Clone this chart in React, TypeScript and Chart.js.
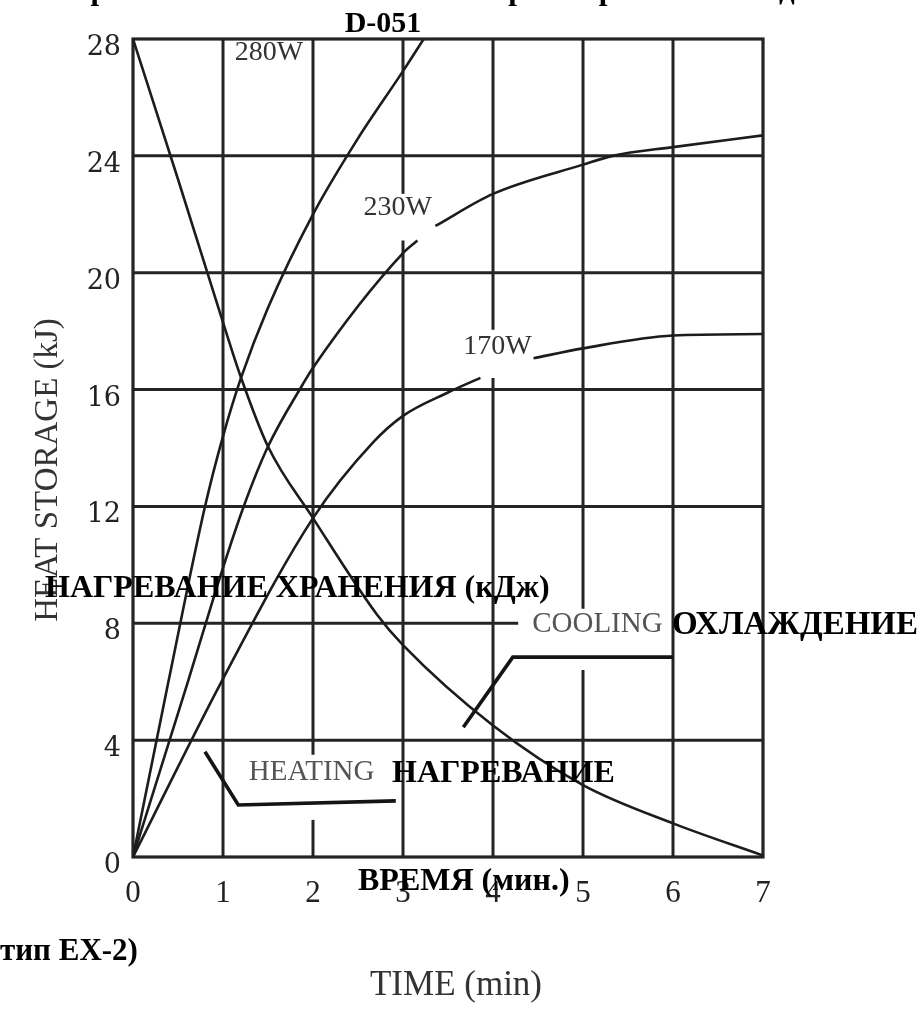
import React, { useEffect, useRef } from 'react';
import { Chart, registerables } from 'chart.js';

Chart.register(...registerables);

// ---- axis ticks ----
const timeTicks = [0, 1, 2, 3, 4, 5, 6, 7];
const storageTicks = [0, 4, 8, 12, 16, 20, 24, 28];

// ---- heating 280 W ----
const heat280Time = [0, 0.4, 0.8, 1.0, 1.2, 1.5, 2.0, 2.5, 3.0, 3.23];
const heat280Kj = [0, 6.1, 12.0, 14.4, 16.4, 18.8, 22.0, 24.6, 26.9, 28.0];

// ---- heating 230 W (curve interrupted by its label) ----
const heat230TimeA = [0, 0.62, 1.0, 1.23, 1.5, 1.89, 2.0, 3.0, 3.16];
const heat230KjA = [0, 6.1, 9.9, 12.0, 14.05, 16.2, 16.75, 20.67, 21.1];
const heat230TimeB = [3.36, 4.0, 5.0, 5.33, 6.0, 7.0];
const heat230KjB = [21.6, 22.7, 23.7, 24.0, 24.3, 24.7];

// ---- heating 170 W (curve interrupted by its label) ----
const heat170TimeA = [0, 1.0, 2.0, 2.67, 3.0, 3.5, 3.86];
const heat170KjA = [0, 6.1, 11.6, 14.2, 15.1, 15.9, 16.4];
const heat170TimeB = [4.45, 5.0, 6.0, 7.0];
const heat170KjB = [17.07, 17.41, 17.85, 17.9];

// ---- cooling ----
const coolTime = [0, 0.5, 1.0, 1.19, 1.5, 2.0, 2.71, 3.0, 4.0, 5.0, 6.0, 7.0];
const coolKj = [28, 23.2, 18.3, 16.5, 14.05, 11.6, 8.3, 7.25, 4.5, 2.46, 1.15, 0.05];

// ---- leader lines for the HEATING / COOLING captions ----
const heatLeaderTime = [0.8, 1.17, 2.92];
const heatLeaderKj = [3.6, 1.78, 1.92];
const coolLeaderTime = [3.67, 4.22, 6.0];
const coolLeaderKj = [4.44, 6.84, 6.84];

// ---- captions ----
const curveCaptions = ['280W', '230W', '170W', 'HEATING', 'COOLING'];
const captionTime = [1.51, 2.94, 4.05, 1.985, 5.16];
const captionKj = [27.55, 22.23, 17.46, 2.91, 7.95];

// gridline interruptions (data units) as in the original drawing
const verticalGaps: Record<number, [number, number][]> = {
  2: [[1.27, 3.5]],
  3: [[21.1, 22.7]],
  4: [[16.4, 18.05]],
  5: [[6.4, 8.5]],
};
const horizontalSpans: Record<number, [number, number]> = {
  8: [0, 4.28],
};

const pts = (xs: number[], ys: number[]) => xs.map((x, i) => ({ x, y: ys[i] }));

const GRID = '#242424';

function segmentsExcluding(lo: number, hi: number, gaps: [number, number][]) {
  const out: [number, number][] = [];
  let cur = lo;
  const sorted = [...gaps].sort((a, b) => a[0] - b[0]);
  for (const [g0, g1] of sorted) {
    if (g0 > cur) out.push([cur, g0]);
    cur = Math.max(cur, g1);
  }
  if (cur < hi) out.push([cur, hi]);
  return out;
}

const paperPlugin = {
  id: 'paper',
  beforeDatasetsDraw(chart: any) {
    const { ctx, scales } = chart;
    const xs = scales.x;
    const ys = scales.y;
    ctx.save();
    ctx.strokeStyle = GRID;
    ctx.lineWidth = 3;
    ctx.lineCap = 'butt';
    for (const t of timeTicks) {
      if (t === 0 || t === 7) continue;
      const px = xs.getPixelForValue(t);
      for (const [a, b] of segmentsExcluding(0, 28, verticalGaps[t] || [])) {
        ctx.beginPath();
        ctx.moveTo(px, ys.getPixelForValue(a));
        ctx.lineTo(px, ys.getPixelForValue(b));
        ctx.stroke();
      }
    }
    for (const v of storageTicks) {
      if (v === 0 || v === 28) continue;
      const [a, b] = horizontalSpans[v] || [0, 7];
      const py = ys.getPixelForValue(v);
      ctx.beginPath();
      ctx.moveTo(xs.getPixelForValue(a), py);
      ctx.lineTo(xs.getPixelForValue(b), py);
      ctx.stroke();
    }
    const l = xs.getPixelForValue(0);
    const r = xs.getPixelForValue(7);
    const t = ys.getPixelForValue(28);
    const b = ys.getPixelForValue(0);
    ctx.lineWidth = 3.2;
    ctx.strokeRect(l, t, r - l, b - t);
    ctx.restore();
  },
  afterDraw(chart: any) {
    const { ctx, scales } = chart;
    const xs = scales.x;
    const ys = scales.y;
    const text = (s: string, x: number, y: number, font: string, color: string, align: CanvasTextAlign = 'left', base: CanvasTextBaseline = 'middle') => {
      ctx.font = font;
      ctx.fillStyle = color;
      ctx.textAlign = align;
      ctx.textBaseline = base;
      ctx.fillText(s, x, y);
    };
    ctx.save();
    for (const v of storageTicks) {
      text(String(v), 121, ys.getPixelForValue(v) + 9, "27px 'DejaVu Serif'", '#222', 'right');
    }
    for (const t of timeTicks) {
      text(String(t), xs.getPixelForValue(t), 894, "31px 'Liberation Serif'", '#222', 'center');
    }
    curveCaptions.forEach((c, i) => {
      const big = c === 'HEATING' || c === 'COOLING';
      text(
        c,
        xs.getPixelForValue(captionTime[i]),
        ys.getPixelForValue(captionKj[i]),
        big ? "29px 'Liberation Serif'" : "28px 'Liberation Serif'",
        big ? '#555' : '#333',
        'center'
      );
    });
    text('TIME (min)', 456, 986, "35px 'Liberation Serif'", '#333', 'center');
    ctx.save();
    ctx.translate(48, 470);
    ctx.rotate(-Math.PI / 2);
    text('HEAT STORAGE (kJ)', 0, 0, "33px 'Liberation Serif'", '#333', 'center');
    ctx.restore();
    const bold = "bold 31px 'Liberation Serif'";
    text('Хранение тепла накопителем при нагреве и охлаждении', 68, -1, bold, '#000', 'left', 'alphabetic');
    text('D-051', 383, 24, "bold 30px 'Liberation Serif'", '#000', 'center');
    text('НАГРЕВАНИЕ ХРАНЕНИЯ (кДж)', 45, 589, "bold 32px 'Liberation Serif'", '#000', 'left');
    text('ОХЛАЖДЕНИЕ', 672, 625, "bold 33px 'Liberation Serif'", '#000', 'left');
    text('НАГРЕВАНИЕ', 392, 774, "bold 32px 'Liberation Serif'", '#000', 'left');
    text('ВРЕМЯ (мин.)', 358, 882, "bold 32px 'Liberation Serif'", '#000', 'left');
    text('тип EX-2)', 0, 952, bold, '#000', 'left');
    ctx.restore();
  },
};

export default function App() {
  const ref = useRef<HTMLCanvasElement | null>(null);
  useEffect(() => {
    if (!ref.current) return;
    const curve = (data: { x: number; y: number }[]) => ({
      data,
      borderColor: '#1c1c1c',
      borderWidth: 2.6,
      pointRadius: 0,
      fill: false,
      cubicInterpolationMode: 'monotone' as const,
    });
    const leader = (data: { x: number; y: number }[]) => ({
      data,
      borderColor: '#141414',
      borderWidth: 3.6,
      pointRadius: 0,
      fill: false,
      tension: 0,
    });
    const chart = new Chart(ref.current, {
      type: 'line',
      data: {
        datasets: [
          curve(pts(heat280Time, heat280Kj)),
          curve(pts(heat230TimeA, heat230KjA)),
          curve(pts(heat230TimeB, heat230KjB)),
          curve(pts(heat170TimeA, heat170KjA)),
          curve(pts(heat170TimeB, heat170KjB)),
          curve(pts(coolTime, coolKj)),
          leader(pts(heatLeaderTime, heatLeaderKj)),
          leader(pts(coolLeaderTime, coolLeaderKj)),
        ] as any,
      },
      options: {
        responsive: false,
        animation: false,
        devicePixelRatio: 1,
        events: [],
        layout: { padding: { left: 133, right: 156, top: 39, bottom: 155 } },
        scales: {
          x: { type: 'linear', min: 0, max: 7, display: false },
          y: { type: 'linear', min: 0, max: 28, display: false },
        },
        plugins: { legend: { display: false }, tooltip: { enabled: false } },
      },
      plugins: [paperPlugin],
    });
    return () => chart.destroy();
  }, []);
  return (
    <div style={{ position: 'absolute', left: 0, top: 0, width: 919, height: 1012, background: '#fff' }}>
      <canvas ref={ref} width={919} height={1012} style={{ display: 'block' }} />
    </div>
  );
}
